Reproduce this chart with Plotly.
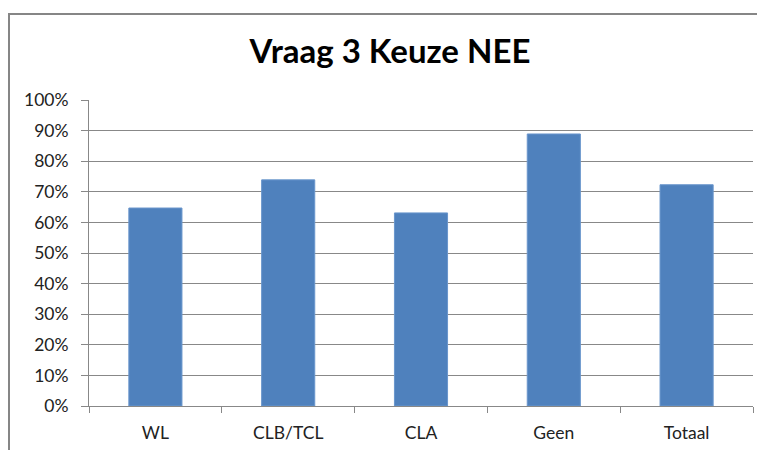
import plotly.graph_objects as go

categories = ["WL", "CLB/TCL", "CLA", "Geen", "Totaal"]
values = [0.647, 0.739, 0.631, 0.889, 0.723]
y_ticks = [0, 0.1, 0.2, 0.3, 0.4, 0.5, 0.6, 0.7, 0.8, 0.9, 1.0]

# the page body adds an 8px offset, so the figure is 757x442
W, H = 757, 442
L, R, T, B = 81, 12, 92, 44
pw, ph = W - L - R, H - T - B

fig = go.Figure(go.Bar(
    x=categories, y=values,
    marker=dict(color="#4F81BD", line=dict(color="#6A96CC", width=1)),
))

fig.update_layout(
    width=W, height=H,
    margin=dict(l=L, r=R, t=T, b=B),
    paper_bgcolor="white", plot_bgcolor="white",
    bargap=0.6,
    showlegend=False,
    title=dict(text="<b>Vraag 3 Keuze NEE</b>", x=(390 - 8) / W, xanchor="center",
               y=1 - (51 - 8) / H, yanchor="middle",
               font=dict(family="Lato", size=33, color="black"),
               automargin=False),
    font=dict(family="Lato", size=17.5, color="#222222"),
)

fig.update_yaxes(
    range=[0, 1], tickvals=y_ticks, tickformat=".0%",
    showgrid=True, gridcolor="#888888", gridwidth=1,
    showline=True, linecolor="#888888", linewidth=1,
    ticks="outside", ticklen=7, tickcolor="#888888",
    ticklabelstandoff=9, zeroline=False, automargin=False,
)
fig.update_xaxes(
    type="category", tickson="boundaries",
    showline=True, linecolor="#888888", linewidth=1,
    ticks="outside", ticklen=6, tickcolor="#888888",
    ticklabelstandoff=11, automargin=False,
)

# outer chart border (extends beyond the picture at right and bottom)
fig.add_shape(type="rect", xref="paper", yref="paper",
              x0=(1 - L) / pw, x1=(W + 20 - L) / pw,
              y0=-(H + 20 - T - ph) / ph, y1=(H - 6 - B) / ph,
              line=dict(color="#868686", width=2), fillcolor="rgba(0,0,0,0)",
              layer="below")

fig.write_html("out.html")
